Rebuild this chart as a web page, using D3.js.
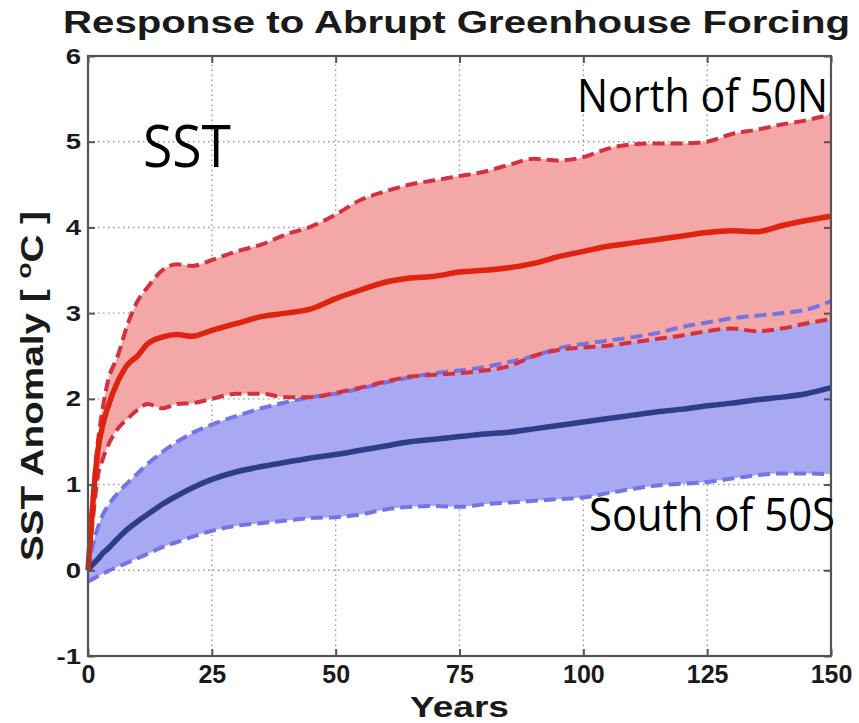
<!DOCTYPE html>
<html>
<head>
<meta charset="utf-8">
<script src="https://cdn.jsdelivr.net/npm/d3@7"></script>
<style>
  html, body { margin: 0; padding: 0; background: #fff; }
  svg { display: block; }
</style>
</head>
<body>
<svg id="chart" width="859" height="723"></svg>
<script>
// Years since the abrupt forcing (shared sample grid for every series)
const years = [0, 1, 2, 3, 4, 6, 8, 10, 12, 15, 18, 21, 25, 30, 35, 40, 45, 50, 55, 60,
  65, 70, 75, 80, 85, 90, 95, 100, 105, 110, 115, 120, 125, 130, 135, 140, 145, 150];

// North of 50N: ensemble mean and spread bounds (°C)
const northMean = [0, 0.8, 1.4, 1.7, 1.9, 2.2, 2.4, 2.5, 2.64, 2.72, 2.75, 2.73, 2.8, 2.88, 2.96, 3.0,
  3.05, 3.17, 3.27, 3.36, 3.41, 3.43, 3.48, 3.5, 3.53, 3.58, 3.66, 3.72, 3.78, 3.82, 3.86, 3.9,
  3.94, 3.96, 3.95, 4.02, 4.08, 4.13];
const northUpper = [0, 0.9, 1.5, 1.9, 2.2, 2.5, 2.87, 3.14, 3.3, 3.5, 3.57, 3.55, 3.62, 3.72, 3.8, 3.92,
  4.01, 4.15, 4.32, 4.42, 4.5, 4.55, 4.6, 4.65, 4.73, 4.8, 4.78, 4.82, 4.92, 4.97, 4.98, 4.98,
  5.0, 5.09, 5.14, 5.2, 5.25, 5.32];
const northLower = [0, 0.6, 1.1, 1.3, 1.45, 1.65, 1.77, 1.87, 1.94, 1.89, 1.94, 1.95, 2.0, 2.06, 2.06, 2.02,
  2.02, 2.07, 2.13, 2.2, 2.26, 2.28, 2.3, 2.33, 2.38, 2.5, 2.57, 2.6, 2.62, 2.66, 2.7, 2.74,
  2.79, 2.82, 2.79, 2.82, 2.88, 2.93];

// South of 50S: ensemble mean and spread bounds (°C)
const southMean = [0, 0.07, 0.13, 0.2, 0.25, 0.37, 0.48, 0.57, 0.65, 0.77, 0.87, 0.96, 1.06, 1.15, 1.21, 1.26,
  1.31, 1.35, 1.4, 1.45, 1.5, 1.53, 1.56, 1.59, 1.61, 1.65, 1.69, 1.73, 1.77, 1.81, 1.85, 1.88,
  1.92, 1.95, 1.99, 2.02, 2.06, 2.13];
const southUpper = [0, 0.3, 0.5, 0.65, 0.75, 0.9, 1.02, 1.13, 1.24, 1.38, 1.5, 1.6, 1.7, 1.8, 1.89, 1.96,
  2.02, 2.06, 2.12, 2.19, 2.25, 2.3, 2.33, 2.37, 2.43, 2.5, 2.59, 2.64, 2.68, 2.72, 2.77, 2.84,
  2.89, 2.94, 2.97, 3.0, 3.04, 3.14];
const southLower = [-0.13, -0.1, -0.07, -0.04, -0.01, 0.04, 0.09, 0.14, 0.19, 0.27, 0.33, 0.39, 0.46, 0.52, 0.55, 0.58,
  0.61, 0.62, 0.65, 0.71, 0.74, 0.75, 0.74, 0.77, 0.79, 0.81, 0.83, 0.85, 0.9, 0.95, 0.99, 1.01,
  1.03, 1.07, 1.11, 1.13, 1.13, 1.12];

// Axis ticks
const xTicks = [0, 25, 50, 75, 100, 125, 150];
const yTicks = [-1, 0, 1, 2, 3, 4, 5, 6];

const svg = d3.select("#chart");
const x = d3.scaleLinear().domain([0, 150]).range([88, 831]);
const y = d3.scaleLinear().domain([-1, 6]).range([656, 56]);
const plain = d => String(d);

// stretch a text element horizontally by a factor
function stretch(sel, factor) {
  sel.each(function () {
    const w = this.getComputedTextLength();
    d3.select(this).attr("textLength", w * factor).attr("lengthAdjust", "spacingAndGlyphs");
  });
}
function fitWidth(sel, width) {
  sel.attr("textLength", width).attr("lengthAdjust", "spacingAndGlyphs");
}

// Dotted grid
const grid = svg.append("g").attr("stroke", "#9a9a9a").attr("stroke-width", 1.4)
  .attr("stroke-dasharray", "1.5,3.5");
grid.selectAll("line.gx").data(xTicks.slice(1, -1)).join("line")
  .attr("x1", d => x(d)).attr("x2", d => x(d)).attr("y1", y(-1)).attr("y2", y(6));
grid.selectAll("line.gy").data(yTicks.slice(1, -1)).join("line")
  .attr("y1", d => y(d)).attr("y2", d => y(d)).attr("x1", x(0)).attr("x2", x(150));

const rows = (lo, hi) => years.map((t, i) => ({ t, lo: lo[i], hi: hi[i] }));
const pts = v => years.map((t, i) => ({ t, v: v[i] }));
const curve = d3.curveMonotoneX;
const area = d3.area().x(d => x(d.t)).y0(d => y(d.lo)).y1(d => y(d.hi)).curve(curve);
const line = d3.line().x(d => x(d.t)).y(d => y(d.v)).curve(curve);

// Spread bands
svg.append("path").datum(rows(southLower, southUpper)).attr("d", area)
  .attr("fill", "#a9a9f3");
svg.append("path").datum(rows(northLower, northUpper)).attr("d", area)
  .attr("fill", "#f3a7a7");

// Band edges (dashed)
function dashed(vals, color) {
  svg.append("path").datum(pts(vals)).attr("d", line)
    .attr("fill", "none").attr("stroke", color).attr("stroke-width", 4)
    .attr("stroke-dasharray", "12,6").attr("stroke-linejoin", "round");
}
dashed(southUpper, "#7474e4");
dashed(southLower, "#7474e4");
dashed(northUpper, "#d6303e");
dashed(northLower, "#d6303e");

// Ensemble means
svg.append("path").datum(pts(southMean)).attr("d", line)
  .attr("fill", "none").attr("stroke", "#2c3f86").attr("stroke-width", 5.5).attr("stroke-linejoin", "round");
svg.append("path").datum(pts(northMean)).attr("d", line)
  .attr("fill", "none").attr("stroke", "#e0230f").attr("stroke-width", 5.5).attr("stroke-linejoin", "round");

// Axes box with inward ticks on all sides
const axisColor = "#555";
function styleAxis(g) {
  g.select(".domain").remove();
  g.selectAll(".tick line").attr("stroke", axisColor).attr("stroke-width", 2);
}
const xb = svg.append("g").attr("transform", `translate(0,${y(-1)})`)
  .call(d3.axisBottom(x).tickValues(xTicks).tickFormat(plain).tickSizeInner(-7).tickSizeOuter(0).tickPadding(9));
styleAxis(xb);
xb.selectAll("text").attr("font-family", "Liberation Sans, Arial, sans-serif")
  .attr("font-weight", "bold").attr("font-size", 25).attr("fill", "#1a1a1a");
const xt = svg.append("g").attr("transform", `translate(0,${y(6)})`)
  .call(d3.axisTop(x).tickValues(xTicks).tickSizeInner(-7).tickSizeOuter(0).tickFormat(""));
styleAxis(xt);
const yl = svg.append("g").attr("transform", `translate(${x(0)},0)`)
  .call(d3.axisLeft(y).tickValues(yTicks).tickFormat(plain).tickSizeInner(-7).tickSizeOuter(0).tickPadding(7));
styleAxis(yl);
yl.selectAll("text").attr("font-family", "Liberation Sans, Arial, sans-serif")
  .attr("font-weight", "bold").attr("font-size", 22).attr("fill", "#1a1a1a");
stretch(yl.selectAll("text"), 1.25);
const yr = svg.append("g").attr("transform", `translate(${x(150)},0)`)
  .call(d3.axisRight(y).tickValues(yTicks).tickSizeInner(-7).tickSizeOuter(0).tickFormat(""));
styleAxis(yr);

svg.append("rect").attr("x", x(0)).attr("y", y(6))
  .attr("width", x(150) - x(0)).attr("height", y(-1) - y(6))
  .attr("fill", "none").attr("stroke", axisColor).attr("stroke-width", 2.2);

// Title and axis labels
const title = svg.append("text").attr("x", 63).attr("y", 33)
  .attr("font-family", "Liberation Sans, Arial, sans-serif").attr("font-weight", "bold")
  .attr("font-size", 32).attr("fill", "#1a1a1a").text("Response to Abrupt Greenhouse Forcing");
fitWidth(title, 787);

fitWidth(svg.append("text").attr("x", x(75)).attr("y", 717).attr("text-anchor", "middle")
  .attr("font-family", "Liberation Sans, Arial, sans-serif").attr("font-weight", "bold")
  .attr("font-size", 30).attr("fill", "#1a1a1a").text("Years"), 99);

const ylab = svg.append("text").attr("transform", `translate(43,386) rotate(-90)`)
  .attr("text-anchor", "middle")
  .attr("font-family", "Liberation Sans, Arial, sans-serif").attr("font-weight", "bold")
  .attr("font-size", 31).attr("fill", "#1a1a1a");
ylab.append("tspan").text("SST Anomaly [ ");
ylab.append("tspan").attr("dy", -12).attr("font-size", 21).text("o");
ylab.append("tspan").attr("dy", 12).text("C ]");
fitWidth(ylab, 350);

// Region annotations
const note = (txt, xx, yy, w) => fitWidth(svg.append("text").attr("x", xx).attr("y", yy)
  .attr("font-family", "Open Sans, Noto Sans, sans-serif").attr("font-size", 45)
  .attr("fill", "#000").text(txt), w);
fitWidth(svg.append("text").attr("x", 143).attr("y", 167)
  .attr("font-family", "Open Sans, Noto Sans, sans-serif").attr("font-size", 58)
  .attr("fill", "#000").text("SST"), 88);
note("North of 50N", 577, 112, 251);
note("South of 50S", 589, 531, 246);
</script>
</body>
</html>
